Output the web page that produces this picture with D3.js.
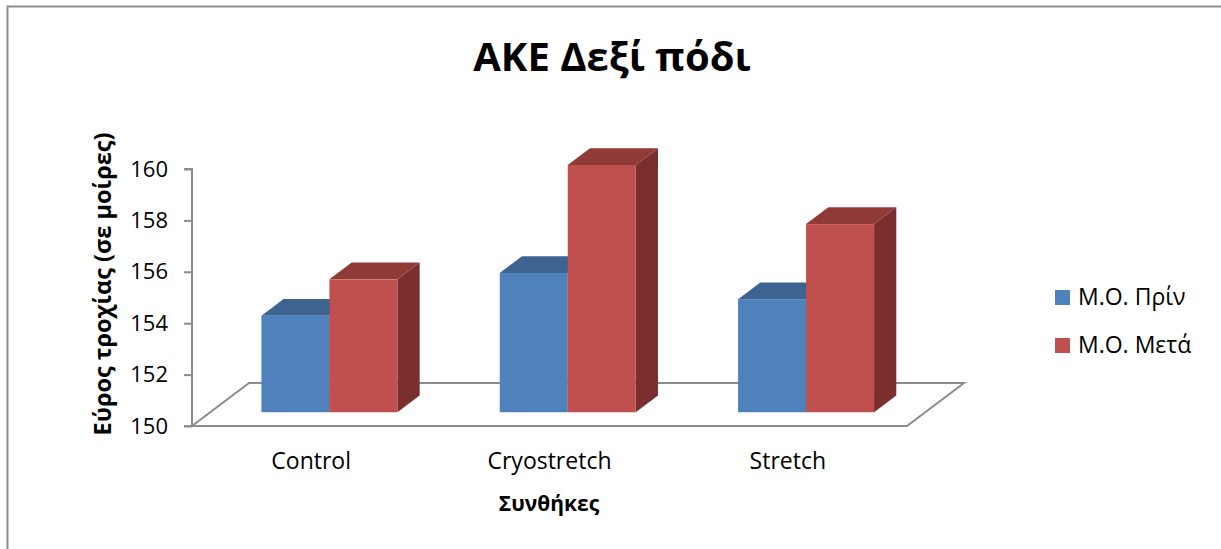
<!DOCTYPE html>
<html>
<head>
<meta charset="utf-8">
<script src="https://cdn.jsdelivr.net/npm/d3@7"></script>
<style>
    body { margin: 0; background: #fff; }
    text { font-family: "Open Sans", "Noto Sans", sans-serif; fill: #000; }
</style>
</head>
<body>
<svg id="chart" width="1221" height="549"></svg>
<script>
// data
let categories = ["Control", "Cryostretch", "Stretch"];
let seriesNames = ["Μ.Ο. Πρίν", "Μ.Ο. Μετά"];
let valuesBefore = [153.75, 155.42, 154.40];
let valuesAfter = [155.17, 159.62, 157.32];
let yTicks = [150, 152, 154, 156, 158, 160];

let colors = {
    "Μ.Ο. Πρίν": { front: "#4f81bd", top: "#3d6491", side: "#33547b" },
    "Μ.Ο. Μετά": { front: "#c0504d", top: "#913b38", side: "#7a2f2e" }
};

let svg = d3.select("#chart");

// outer frame (cut by the window on right and bottom)
svg.append("rect")
    .attr("x", 7.5).attr("y", 6.5)
    .attr("width", 1300).attr("height", 600)
    .attr("fill", "none")
    .attr("stroke", "#8c8c8c")
    .attr("stroke-width", 2);

let x0 = 192, x1 = 907;
let depthX = 57, depthY = -43;       // floor depth vector
let barFront = 0.32, barDepth = 0.39; // bar position inside the floor depth

let xScale = d3.scaleBand()
    .domain(categories)
    .range([x0, x1]);

let groupWidth = 136;
let subScale = d3.scaleBand()
    .domain(seriesNames)
    .range([(xScale.bandwidth() - groupWidth) / 2, (xScale.bandwidth() + groupWidth) / 2]);

let yScale = d3.scaleLinear()
    .domain([150, 160])
    .range([426, 169]);

// floor
let yb = yScale(150);
let floorPts = [[x0, yb], [x1, yb], [x1 + depthX, yb + depthY], [x0 + depthX, yb + depthY]];
svg.append("polygon")
    .attr("points", floorPts.map(p => p.join(",")).join(" "))
    .attr("fill", "#fff")
    .attr("stroke", "#8c8c8c")
    .attr("stroke-width", 2);

// y axis
let yAxis = d3.axisLeft(yScale)
    .tickValues(yTicks)
    .tickSize(8)
    .tickPadding(16)
    .tickFormat(d3.format("d"));
let yAxisG = svg.append("g")
    .attr("transform", "translate(" + x0 + ",0)")
    .call(yAxis);
yAxisG.selectAll("path, line").attr("stroke", "#8c8c8c").attr("stroke-width", 2);
yAxisG.select("path").attr("d", "M-8," + yScale(160) + "H0V" + yScale(150) + "H-8");
yAxisG.selectAll("text")
    .style("font-family", "'Open Sans', sans-serif")
    .style("font-size", "22px")
    .attr("fill", "#000");

// bars
let bars = [];
categories.forEach(function (c, i) {
    bars.push({ cat: c, series: seriesNames[0], value: valuesBefore[i] });
    bars.push({ cat: c, series: seriesNames[1], value: valuesAfter[i] });
});

let fx = depthX * barFront, fy = depthY * barFront;
let dx = depthX * barDepth, dy = depthY * barDepth;

let barG = svg.append("g").selectAll("g")
    .data(bars)
    .enter().append("g");

function poly(pts) { return pts.map(p => p.join(",")).join(" "); }

barG.each(function (d) {
    let g = d3.select(this);
    let left = xScale(d.cat) + subScale(d.series) + fx;
    let right = left + subScale.bandwidth();
    let top = yScale(d.value) + fy;
    let bottom = yScale(150) + fy;
    let col = colors[d.series];
    g.append("polygon")
        .attr("points", poly([[right, top], [right + dx, top + dy], [right + dx, bottom + dy], [right, bottom]]))
        .attr("fill", col.side);
    g.append("polygon")
        .attr("points", poly([[left, top], [left + dx, top + dy], [right + dx, top + dy], [right, top]]))
        .attr("fill", col.top);
    g.append("rect")
        .attr("x", left).attr("y", top)
        .attr("width", right - left).attr("height", bottom - top)
        .attr("fill", col.front);
});

// category labels
svg.append("g").selectAll("text")
    .data(categories)
    .enter().append("text")
    .attr("x", d => xScale(d) + xScale.bandwidth() / 2)
    .attr("y", 469)
    .attr("text-anchor", "middle")
    .style("font-size", "23px")
    .text(d => d);

// titles
svg.append("text")
    .attr("x", 612).attr("y", 71)
    .attr("text-anchor", "middle")
    .style("font-size", "40px")
    .style("font-weight", "bold")
    .text("ΑΚΕ Δεξί πόδι");

svg.append("text")
    .attr("x", 549).attr("y", 511)
    .attr("text-anchor", "middle")
    .style("font-size", "21px")
    .style("font-weight", "bold")
    .text("Συνθήκες");

svg.append("text")
    .attr("transform", "translate(111,284) rotate(-90)")
    .attr("text-anchor", "middle")
    .style("font-size", "23.5px")
    .style("font-weight", "bold")
    .text("Εύρος τροχίας (σε μοίρες)");

// legend
let legend = svg.append("g").selectAll("g")
    .data(seriesNames)
    .enter().append("g")
    .attr("transform", (d, i) => "translate(1055," + (290 + i * 48) + ")");
legend.append("rect")
    .attr("width", 15).attr("height", 15)
    .attr("fill", d => colors[d].front);
legend.append("text")
    .attr("x", 23).attr("y", 15)
    .style("font-size", "23px")
    .text(d => d);
</script>
</body>
</html>
